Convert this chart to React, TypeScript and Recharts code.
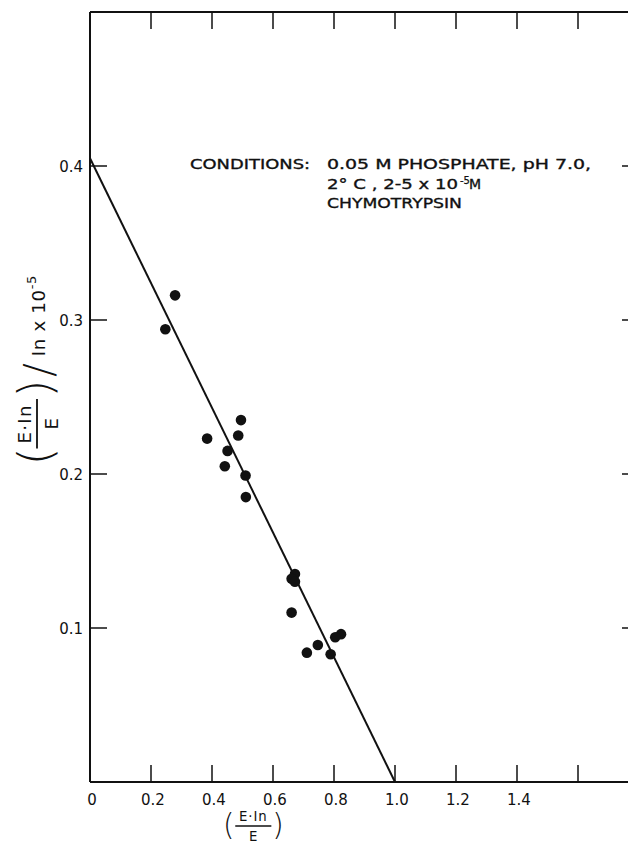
import React from "react";
import { Customized, Scatter, ScatterChart, XAxis, YAxis } from "recharts";

// measured points, (E·In/E) vs (E·In/E)/In x 10^-5
const xValues = [
  0.279, 0.247, 0.495, 0.486, 0.384, 0.451, 0.442, 0.51, 0.511, 0.672, 0.661,
  0.672, 0.661, 0.823, 0.804, 0.747, 0.711, 0.789,
];
const yValues = [
  0.316, 0.294, 0.235, 0.225, 0.223, 0.215, 0.205, 0.199, 0.185, 0.135, 0.132,
  0.13, 0.11, 0.096, 0.094, 0.089, 0.084, 0.083,
];

// fitted straight line
const fitX = [0, 1.0];
const fitY = [0.405, 0];

const xTicks = [0, 0.2, 0.4, 0.6, 0.8, 1.0, 1.2, 1.4, 1.6];
const xTickLabels = ["0", "0.2", "0.4", "0.6", "0.8", "1.0", "1.2", "1.4", ""];
const yTicks = [0.1, 0.2, 0.3, 0.4];
const yTickLabels = ["0.1", "0.2", "0.3", "0.4"];

const conditionsHead = "CONDITIONS:";
const conditionsLine1 = "0.05 M PHOSPHATE, pH 7.0,";
const conditionsLine2 = "2° C , 2-5 x 10";
const conditionsExp = "-5";
const conditionsUnit = "M";
const conditionsLine3 = "CHYMOTRYPSIN";

const points = xValues.map((x, i) => ({ x, y: yValues[i] }));
const fitLine = fitX.map((x, i) => ({ x, y: fitY[i] }));

const FONT = "'DejaVu Sans', sans-serif";
const INK = "#111";

const Dot = (props: any) => (
  <circle cx={props.cx} cy={props.cy} r={5.3} fill={INK} />
);

const BottomTick = (props: any) => {
  const { x, y, index } = props;
  return (
    <g>
      {index > 0 && (
        <line x1={x} y1={y} x2={x} y2={y - 17} stroke={INK} strokeWidth={1.5} />
      )}
      <text
        x={x + 2}
        y={y + 23}
        textAnchor="middle"
        fontFamily={FONT}
        fontSize={15}
        fill={INK}
      >
        {xTickLabels[index]}
      </text>
    </g>
  );
};

const TopTick = (props: any) => {
  const { x, y } = props;
  return <line x1={x} y1={y} x2={x} y2={y + 17} stroke={INK} strokeWidth={1.5} />;
};

const LeftTick = (props: any) => {
  const { x, y, index } = props;
  return (
    <g>
      <line x1={x} y1={y} x2={x + 17} y2={y} stroke={INK} strokeWidth={1.5} />
      <text
        x={x - 7}
        y={y + 6}
        textAnchor="end"
        fontFamily={FONT}
        fontSize={15}
        fill={INK}
      >
        {yTickLabels[index]}
      </text>
    </g>
  );
};

const RightTick = (props: any) => {
  const { x, y } = props;
  return <line x1={x} y1={y} x2={x - 17} y2={y} stroke={INK} strokeWidth={1.5} />;
};

// "(E·In / E)" drawn around a local origin; bar sits on y = 0
const Fraction = ({ paren = 42 }: { paren?: number }) => (
  <g fontFamily={FONT} fill={INK}>
    <text x={2} y={paren * 0.3} fontSize={paren} fontWeight={300}>
      (
    </text>
    <text x={34} y={-5} fontSize={14} textAnchor="middle" letterSpacing={1}>
      E·In
    </text>
    <line x1={15} y1={0} x2={53} y2={0} stroke={INK} strokeWidth={1.4} />
    <text x={34} y={16} fontSize={14} textAnchor="middle">
      E
    </text>
    <text x={54} y={paren * 0.3} fontSize={paren} fontWeight={300}>
      )
    </text>
  </g>
);

const Titles = () => (
  <g>
    {/* y axis title */}
    <g transform="translate(37 468) rotate(-90) scale(1.3)">
      <Fraction paren={36} />
      <text x={70} y={12} fontFamily={FONT} fontSize={32} fontWeight={300} fill={INK}>
        /
      </text>
      <text x={86} y={6} fontFamily={FONT} fontSize={14} fill={INK} letterSpacing={0.5}>
        In x 10
        <tspan dy={-7} fontSize={10}>
          -5
        </tspan>
      </text>
    </g>
    {/* x axis title */}
    <g transform="translate(221 826) scale(0.95)">
      <Fraction paren={31} />
    </g>
    {/* conditions note */}
    <g
      fontFamily={FONT}
      fontSize={14}
      fill={INK}
      stroke={INK}
      strokeWidth={0.35}
    >
      <text x={190} y={169} textLength={120} lengthAdjust="spacingAndGlyphs">
        {conditionsHead}
      </text>
      <text x={327} y={169} textLength={264} lengthAdjust="spacingAndGlyphs">
        {conditionsLine1}
      </text>
      <text x={327} y={189} textLength={131} lengthAdjust="spacingAndGlyphs">
        {conditionsLine2}
      </text>
      <text x={460} y={184} fontSize={10} strokeWidth={0.25}>
        {conditionsExp}
      </text>
      <text x={469} y={189}>
        {conditionsUnit}
      </text>
      <text x={327} y={208} textLength={135} lengthAdjust="spacingAndGlyphs">
        {conditionsLine3}
      </text>
    </g>
  </g>
);

export default function App() {
  return (
    <div
      style={{
        position: "fixed",
        left: 0,
        top: 0,
        width: 628,
        height: 848,
        overflow: "hidden",
        background: "#fff",
      }}
    >
      <ScatterChart
        width={660}
        height={848}
        margin={{ top: 0, right: 1, bottom: 0, left: 0 }}
      >
        <XAxis
          xAxisId="bottom"
          dataKey="x"
          type="number"
          domain={[0, 1.8]}
          ticks={xTicks}
          interval={0}
          height={66}
          tickSize={0}
          tickMargin={0}
          tickLine={false}
          tick={<BottomTick />}
          axisLine={{ stroke: INK, strokeWidth: 2 }}
        />
        <XAxis
          xAxisId="top"
          orientation="top"
          dataKey="x"
          type="number"
          domain={[0, 1.8]}
          ticks={xTicks.slice(1)}
          interval={0}
          height={12}
          tickSize={0}
          tickMargin={0}
          tickLine={false}
          tick={<TopTick />}
          axisLine={{ stroke: INK, strokeWidth: 2 }}
        />
        <YAxis
          yAxisId="left"
          dataKey="y"
          type="number"
          domain={[0, 0.5]}
          ticks={yTicks}
          interval={0}
          width={90}
          tickSize={0}
          tickMargin={0}
          tickLine={false}
          tick={<LeftTick />}
          axisLine={{ stroke: INK, strokeWidth: 2 }}
        />
        <YAxis
          yAxisId="right"
          orientation="right"
          dataKey="y"
          type="number"
          domain={[0, 0.5]}
          ticks={yTicks}
          interval={0}
          width={20}
          tickSize={0}
          tickMargin={0}
          tickLine={false}
          tick={<RightTick />}
          axisLine={{ stroke: INK, strokeWidth: 2 }}
        />
        <Scatter
          data={fitLine}
          xAxisId="top"
          yAxisId="right"
          line={{ stroke: INK, strokeWidth: 2 }}
          lineType="joint"
          shape={() => <g />}
          isAnimationActive={false}
        />
        <Scatter
          data={points}
          xAxisId="bottom"
          yAxisId="left"
          shape={<Dot />}
          isAnimationActive={false}
        />
        <Customized component={Titles} />
      </ScatterChart>
    </div>
  );
}
